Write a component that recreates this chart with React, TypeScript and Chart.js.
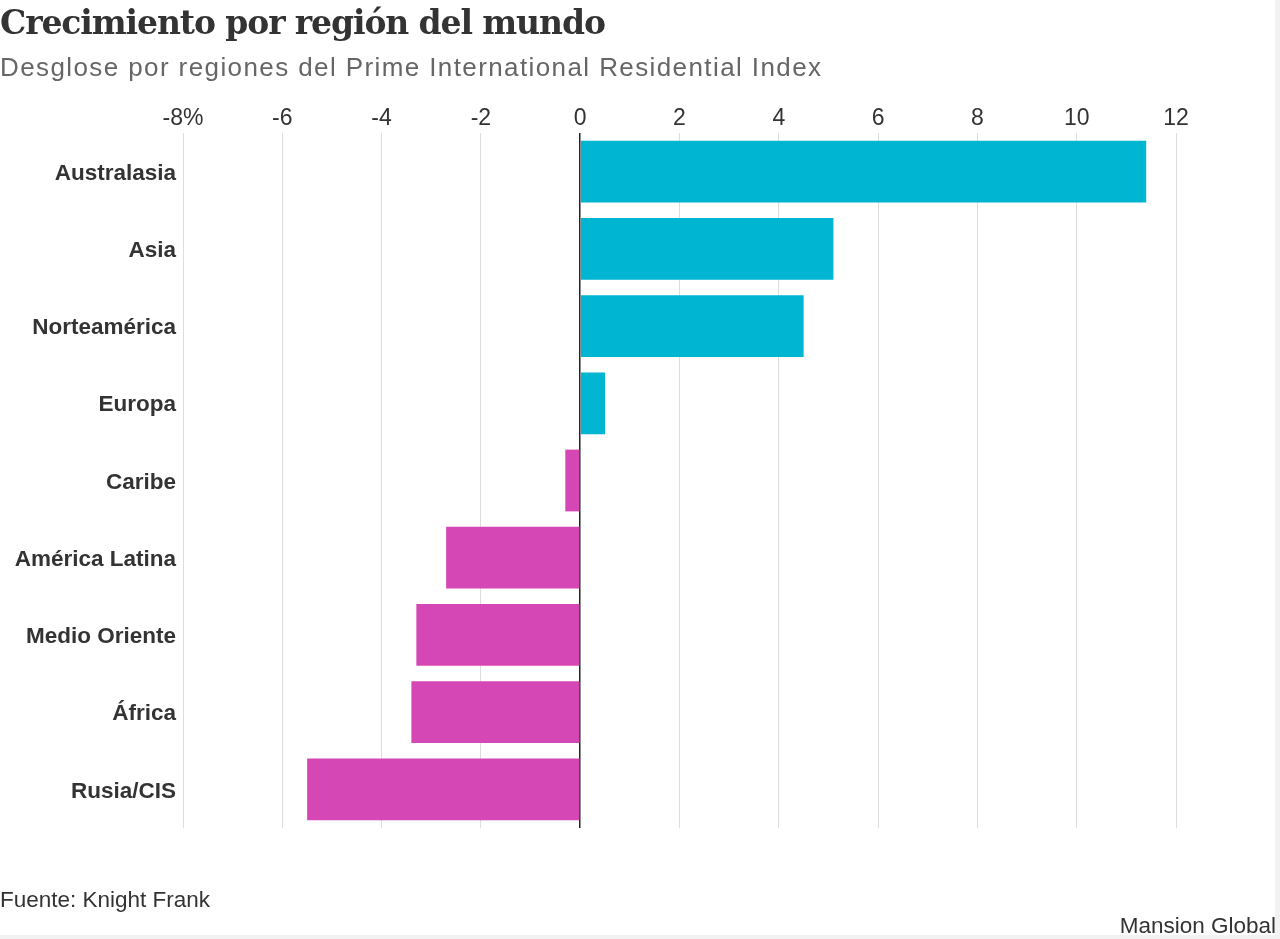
import React, { useEffect, useRef } from "react";
import { Chart, registerables } from "chart.js";

Chart.register(...registerables);

const regions = [
  "Australasia",
  "Asia",
  "Norteamérica",
  "Europa",
  "Caribe",
  "América Latina",
  "Medio Oriente",
  "África",
  "Rusia/CIS",
];
const growth = [11.4, 5.1, 4.5, 0.5, -0.3, -2.7, -3.3, -3.4, -5.5];
const xTickLabels = ["-8%", "-6", "-4", "-2", "0", "2", "4", "6", "8", "10", "12"];

const POS = "#00B5D1";
const NEG = "#D447B4";

export default function App() {
  const ref = useRef<HTMLCanvasElement | null>(null);

  useEffect(() => {
    if (!ref.current) return;
    const chart = new Chart(ref.current, {
      type: "bar",
      data: {
        labels: regions,
        datasets: [
          {
            data: growth,
            backgroundColor: growth.map((v) => (v >= 0 ? POS : NEG)),
            borderWidth: 0,
            barPercentage: 0.8,
            categoryPercentage: 1,
          },
        ],
      },
      options: {
        indexAxis: "y",
        responsive: false,
        animation: false,
        layout: { padding: { top: 100, bottom: 111, right: 104, left: 0 } },
        plugins: {
          legend: { display: false },
          tooltip: { enabled: false },
          title: { display: false },
        },
        scales: {
          x: {
            position: "top",
            min: -8,
            max: 12,
            border: { display: false },
            grid: {
              drawTicks: false,
              color: (ctx: any) => (ctx.tick && ctx.tick.value === 0 ? "#222222" : "#dddddd"),
              lineWidth: (ctx: any) => (ctx.tick && ctx.tick.value === 0 ? 1.5 : 1),
            },
            ticks: {
              stepSize: 2,
              padding: 1,
              color: "#333333",
              font: { family: "'Liberation Sans', Arial, sans-serif", size: 23 },
              callback: (_v: any, i: number) => xTickLabels[i],
            },
            afterFit: (scale: any) => {
              scale.height = 33;
            },
          },
          y: {
            border: { display: false },
            grid: { display: false, drawTicks: false },
            ticks: {
              padding: 7,
              labelOffset: 2,
              color: "#333333",
              font: { family: "'Liberation Sans', Arial, sans-serif", size: 22.5, weight: "bold" },
            },
            afterFit: (scale: any) => {
              scale.width = 183;
            },
          },
        },
      },
    });
    return () => chart.destroy();
  }, []);

  return (
    <div
      style={{
        position: "absolute",
        left: 0,
        top: 0,
        width: 1280,
        height: 939,
        background: "#ffffff",
        overflow: "hidden",
        fontFamily: "'Liberation Sans', Arial, sans-serif",
      }}
    >
      <canvas ref={ref} width={1280} height={939} style={{ position: "absolute", left: 0, top: 0, width: 1280, height: 939 }} />
      <div
        style={{
          position: "absolute",
          left: 0,
          top: 1,
          fontFamily: "'DejaVu Serif', 'Liberation Serif', serif",
          fontWeight: "bold",
          fontSize: 33,
          letterSpacing: "-1.1px",
          lineHeight: "44px",
          color: "#333333",
          whiteSpace: "nowrap",
        }}
      >
        Crecimiento por región del mundo
      </div>
      <div
        style={{
          position: "absolute",
          left: 0,
          top: 51,
          fontSize: 26,
          letterSpacing: "1.4px",
          lineHeight: "32px",
          color: "#666666",
          whiteSpace: "nowrap",
        }}
      >
        Desglose por regiones del Prime International Residential Index
      </div>
      <div
        style={{
          position: "absolute",
          left: 0,
          top: 886,
          fontSize: 22.5,
          lineHeight: "28px",
          color: "#333333",
          whiteSpace: "nowrap",
        }}
      >
        Fuente: Knight Frank
      </div>
      <div
        style={{
          position: "absolute",
          right: 4,
          top: 912,
          fontSize: 22.5,
          lineHeight: "28px",
          color: "#333333",
          whiteSpace: "nowrap",
        }}
      >
        Mansion Global
      </div>
      <div style={{ position: "absolute", right: 0, top: 0, width: 5, height: 939, background: "#f2f2f2" }} />
      <div style={{ position: "absolute", left: 0, bottom: 0, width: 1280, height: 4, background: "#f2f2f2" }} />
    </div>
  );
}
